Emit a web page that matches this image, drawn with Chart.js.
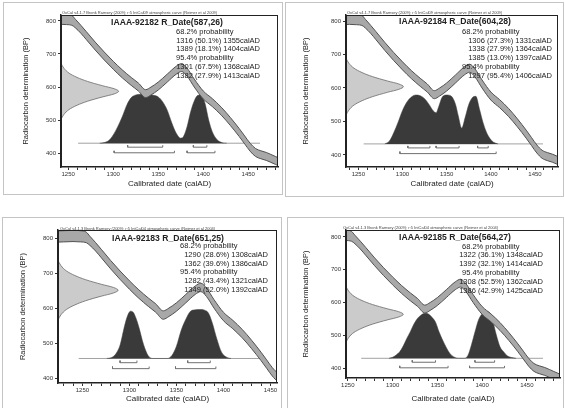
<!DOCTYPE html>
<html lang="en">
<head>
<meta charset="UTF-8">
<title>OxCal calibration plots</title>
<script src="https://cdn.jsdelivr.net/npm/chart.js"></script>
<style>
    body {
        margin: 0;
        width: 565px;
        height: 408px;
        overflow: hidden;
        position: relative;
        background: #fff;
        font-family: "Liberation Sans", Arial, sans-serif;
    }
    .panel { position: absolute; border: 1px solid #c4c4c4; background: #fff; }
    .panel canvas { position: absolute; left: 0; top: 0; }
    .txt { position: absolute; white-space: nowrap; color: #222; line-height: 1; }
    .hdr { font-size: 4px; color: #444; transform: translateY(-50%); }
    .ttl { font-size: 8.6px; font-weight: bold; transform: translate(-50%, -50%); }
    .prob { font-size: 7.5px; transform: translateY(-50%); }
</style>
</head>
<body>
<script>
    // ---- samples ----
    const sampleNames = ['IAAA-92182', 'IAAA-92184', 'IAAA-92183', 'IAAA-92185'];
    const dateBP = [587, 604, 651, 564];
    const dateErr = [26, 28, 25, 27];
    const calHeader = [
        'OxCal v4.1.7 Bronk Ramsey (2009); r:5 IntCal09 atmospheric curve (Reimer et al 2009)',
        'OxCal v4.1.7 Bronk Ramsey (2009); r:5 IntCal09 atmospheric curve (Reimer et al 2009)',
        'OxCal v4.1.3 Bronk Ramsey (2009); r:5 IntCal04 atmospheric curve (Reimer et al 2004)',
        'OxCal v4.1.3 Bronk Ramsey (2009); r:5 IntCal04 atmospheric curve (Reimer et al 2004)'
    ];

    // ---- calibration curve ----
    const curveYears = [1220, 1230, 1240, 1248, 1254, 1258, 1264, 1270, 1280, 1290, 1300, 1310, 1320, 1328, 1336, 1342, 1350, 1360, 1370, 1376, 1382, 1390, 1400, 1410, 1420, 1430, 1440, 1446, 1452, 1458, 1464, 1470, 1480, 1490];
    const curveBP    = [804, 805, 806, 805, 802, 792, 775, 756, 724, 694, 666, 640, 617, 600, 580, 588, 603, 627, 651, 659, 645, 612, 576, 553, 527, 496, 462, 440, 418, 402, 395, 390, 378, 366];
    const curveErr   = [16, 16, 16, 16, 15, 13, 12, 12, 12, 12, 12, 12, 12, 12, 12, 12, 12, 12, 12, 12, 12, 12, 12, 12, 12, 12, 12, 12, 12, 12, 12, 12, 12, 12];

    // ---- radiocarbon date shape on the y axis ----
    const gaussOffset = [-85, -70, -55, -42, -30, -17, -8, 0, 8, 17, 30, 42, 55, 70, 85];
    const gaussShape  = [0, 0.05, 0.14, 0.28, 0.46, 0.72, 0.92, 1, 0.92, 0.72, 0.46, 0.28, 0.14, 0.05, 0];
    const gaussPeakYears = [64, 65, 64, 64];

    // ---- calibrated distributions (height above baseline, BP units) ----
    const distYears = [
        [1285, 1290, 1295, 1300, 1305, 1310, 1315, 1320, 1325, 1330, 1335, 1340, 1345, 1350, 1355, 1360, 1365, 1370, 1375, 1378, 1382, 1386, 1390, 1394, 1398, 1402, 1406, 1410, 1414, 1418, 1422, 1426],
        [1280, 1285, 1290, 1295, 1300, 1305, 1310, 1315, 1320, 1325, 1330, 1335, 1338, 1341, 1345, 1350, 1355, 1360, 1363, 1367, 1371, 1375, 1379, 1383, 1387, 1391, 1395, 1399, 1403, 1408],
        [1276, 1282, 1286, 1290, 1295, 1298, 1301, 1304, 1307, 1310, 1315, 1320, 1325, 1340, 1345, 1350, 1355, 1360, 1365, 1370, 1375, 1380, 1384, 1388, 1393, 1398, 1404, 1408],
        [1296, 1300, 1304, 1308, 1312, 1316, 1320, 1324, 1328, 1332, 1336, 1340, 1344, 1348, 1352, 1356, 1360, 1364, 1368, 1374, 1380, 1384, 1388, 1392, 1396, 1400, 1404, 1408, 1412, 1416, 1420, 1424, 1428, 1432, 1438]
    ];
    const distHeight = [
        [0, 2, 8, 25, 50, 80, 115, 138, 146, 148, 148, 147, 145, 140, 125, 100, 62, 30, 15, 20, 50, 95, 128, 145, 146, 120, 70, 35, 15, 5, 1, 0],
        [0, 8, 33, 65, 100, 125, 140, 146, 144, 135, 118, 98, 93, 112, 140, 146, 143, 118, 85, 47, 80, 118, 138, 142, 105, 65, 35, 16, 5, 0],
        [0, 4, 15, 38, 95, 122, 135, 132, 115, 90, 40, 8, 0, 0, 8, 35, 80, 112, 135, 139, 140, 138, 130, 103, 56, 18, 3, 0],
        [0, 3, 10, 20, 38, 61, 82, 105, 122, 132, 137, 135, 125, 110, 80, 55, 33, 15, 5, 0, 0, 8, 40, 80, 117, 135, 143, 140, 112, 70, 35, 20, 8, 3, 0]
    ];
    const baselineBP = [430, 433, 456, 430];
    const baselineSpan = [[1261, 1463], [1256, 1459], [1246, 1442], [1265, 1468]];

    // ---- probability ranges ----
    const ranges68 = [[[1316, 1355], [1389, 1404]], [[1306, 1331], [1338, 1364], [1385, 1397]], [[1290, 1308], [1362, 1386]], [[1322, 1348], [1392, 1414]]];
    const probs68  = [[50.1, 18.1], [27.3, 27.9, 13.0], [28.6, 39.6], [36.1, 32.1]];
    const ranges95 = [[[1301, 1368], [1382, 1413]], [[1297, 1406]], [[1282, 1321], [1349, 1392]], [[1308, 1362], [1386, 1425]]];
    const probs95  = [[67.5, 27.9], [95.4], [43.4, 52.0], [52.5, 42.9]];

    // ---- axes ----
    const xMin = [1242, 1236, 1224, 1248];
    const xMax = [1483, 1476, 1457, 1487];
    const yMin = [358, 364, 386, 370];
    const yMax = [818, 818, 823, 821];
    const xTickLabels = [1250, 1300, 1350, 1400, 1450];
    const yTickLabels = [400, 500, 600, 700, 800];

    // ---- page layout (pixels) ----
    const layout = [
        { box: [3, 2, 278, 191], pad: { left: 13, top: 12, right: 4, bottom: 1 }, yW: 44, xH: 26, hdr: [62, 13], title: [167, 22], head: 176, rangeR: 260, line0: 31.7 },
        { box: [285, 2, 277, 193], pad: { left: 11, top: 12, right: 5, bottom: 3 }, yW: 49, xH: 26, hdr: [347, 13], title: [455, 21], head: 462, rangeR: 552, line0: 31.7 },
        { box: [2, 217, 278, 192], pad: { left: 11, top: 12, right: 4, bottom: 2 }, yW: 44, xH: 25, hdr: [60, 229], title: [168, 238], head: 180, rangeR: 268, line0: 246 },
        { box: [287, 217, 275, 192], pad: { left: 9, top: 12, right: 3, bottom: 2 }, yW: 49, xH: 30, hdr: [343, 228], title: [455, 237], head: 462, rangeR: 543, line0: 246.5 }
    ];

    Chart.defaults.font.family = '"Liberation Sans", Arial, sans-serif';

    // frame round the plot area (top and right sides)
    const framePlugin = {
        id: 'frame',
        afterDraw(chart) {
            const { ctx, chartArea: a } = chart;
            ctx.save();
            ctx.strokeStyle = '#222';
            ctx.lineWidth = 1;
            ctx.strokeRect(a.left + 0.5, a.top + 0.5, a.right - a.left - 1, a.bottom - a.top - 1);
            ctx.restore();
        }
    };

    function addText(cls, text, x, y, alignRight) {
        const d = document.createElement('div');
        d.className = 'txt ' + cls;
        d.textContent = text;
        if (alignRight) d.style.right = (565 - x) + 'px';
        else d.style.left = x + 'px';
        d.style.top = y + 'px';
        document.body.appendChild(d);
    }

    function bracketPoints(ranges, level) {
        const pts = [];
        ranges.forEach(r => {
            pts.push({ x: r[0], y: level + 6 }, { x: r[0], y: level }, { x: r[1], y: level }, { x: r[1], y: level + 6 }, { x: r[1], y: null });
        });
        return pts;
    }

    layout.forEach((L, i) => {
        const panel = document.createElement('div');
        panel.className = 'panel';
        panel.style.left = L.box[0] + 'px';
        panel.style.top = L.box[1] + 'px';
        panel.style.width = L.box[2] + 'px';
        panel.style.height = L.box[3] + 'px';
        const canvas = document.createElement('canvas');
        canvas.width = L.box[2];
        canvas.height = L.box[3];
        panel.appendChild(canvas);
        document.body.appendChild(panel);

        const base = baselineBP[i];
        const upper = curveYears.map((yr, k) => ({ x: yr, y: curveBP[k] + curveErr[k] }));
        const lower = curveYears.map((yr, k) => ({ x: yr, y: curveBP[k] - curveErr[k] }));
        const dist = distYears[i].map((yr, k) => ({ x: yr, y: base + distHeight[i][k] }));
        const gauss = gaussOffset.map((o, k) => ({ x: xMin[i] + gaussShape[k] * gaussPeakYears[i], y: dateBP[i] + o }));
        const minorTicks = [];
        for (let v = Math.ceil(xMin[i] / 10) * 10; v <= xMax[i]; v += 10) minorTicks.push(v);

        new Chart(canvas, {
            type: 'line',
            data: {
                datasets: [
                    { data: upper, borderColor: '#505050', borderWidth: 1, pointRadius: 0, cubicInterpolationMode: 'monotone', fill: false },
                    { data: lower, borderColor: '#505050', borderWidth: 1, pointRadius: 0, cubicInterpolationMode: 'monotone', fill: '-1', backgroundColor: '#a8a8a8' },
                    { data: bracketPoints(ranges68[i], base - 12), borderColor: '#707070', borderWidth: 1, pointRadius: 0, spanGaps: false, fill: false },
                    { data: bracketPoints(ranges95[i], base - 29), borderColor: '#707070', borderWidth: 1, pointRadius: 0, spanGaps: false, fill: false },
                    { data: dist, borderColor: '#3a3a3a', borderWidth: 0.5, pointRadius: 0, cubicInterpolationMode: 'monotone', fill: { value: base }, backgroundColor: '#3a3a3a' },
                    { data: [{ x: baselineSpan[i][0], y: base }, { x: baselineSpan[i][1], y: base }], borderColor: '#8a8a8a', borderWidth: 0.8, pointRadius: 0, fill: false },
                    { data: gauss, indexAxis: 'y', borderColor: '#6a6a6a', borderWidth: 0.8, pointRadius: 0, cubicInterpolationMode: 'monotone', fill: { value: xMin[i] }, backgroundColor: '#cbcbcb' }
                ]
            },
            options: {
                responsive: false,
                animation: false,
                events: [],
                layout: { padding: L.pad },
                plugins: { legend: { display: false }, tooltip: { enabled: false } },
                scales: {
                    x: {
                        type: 'linear', min: xMin[i], max: xMax[i],
                        afterBuildTicks: s => { s.ticks = minorTicks.map(v => ({ value: v })); },
                        afterFit: s => { s.height = L.xH; },
                        ticks: { autoSkip: false, maxRotation: 0, padding: 1, color: '#333', font: { size: 6 },
                                 callback: v => xTickLabels.includes(v) ? String(v) : '' },
                        grid: { drawOnChartArea: false, tickLength: 3, color: '#333' },
                        border: { color: '#222', width: 1.5 },
                        title: { display: true, text: 'Calibrated date (calAD)', color: '#222', font: { size: 8 }, padding: { top: 0, bottom: 4 } }
                    },
                    y: {
                        type: 'linear', min: yMin[i], max: yMax[i],
                        afterBuildTicks: s => { s.ticks = yTickLabels.map(v => ({ value: v })); },
                        afterFit: s => { s.width = L.yW; },
                        ticks: { padding: 2, color: '#333', font: { size: 6 } },
                        grid: { drawOnChartArea: false, tickLength: 3, color: '#333' },
                        border: { color: '#222', width: 1.5 },
                        title: { display: true, text: 'Radiocarbon determination (BP)', color: '#222', font: { size: 7.5 }, padding: { top: 4, bottom: 0 } }
                    }
                }
            },
            plugins: [framePlugin]
        });

        // annotations
        addText('hdr', calHeader[i], L.hdr[0], L.hdr[1]);
        addText('ttl', sampleNames[i] + ' R_Date(' + dateBP[i] + ',' + dateErr[i] + ')', L.title[0], L.title[1]);
        let y = L.line0;
        const step = 8.8;
        addText('prob', '68.2% probability', L.head, y);
        ranges68[i].forEach((r, k) => { y += step; addText('prob', r[0] + ' (' + probs68[i][k].toFixed(1) + '%) ' + r[1] + 'calAD', L.rangeR, y, true); });
        y += step;
        addText('prob', '95.4% probability', L.head, y);
        ranges95[i].forEach((r, k) => { y += step; addText('prob', r[0] + ' (' + probs95[i][k].toFixed(1) + '%) ' + r[1] + 'calAD', L.rangeR, y, true); });
    });
</script>
</body>
</html>
